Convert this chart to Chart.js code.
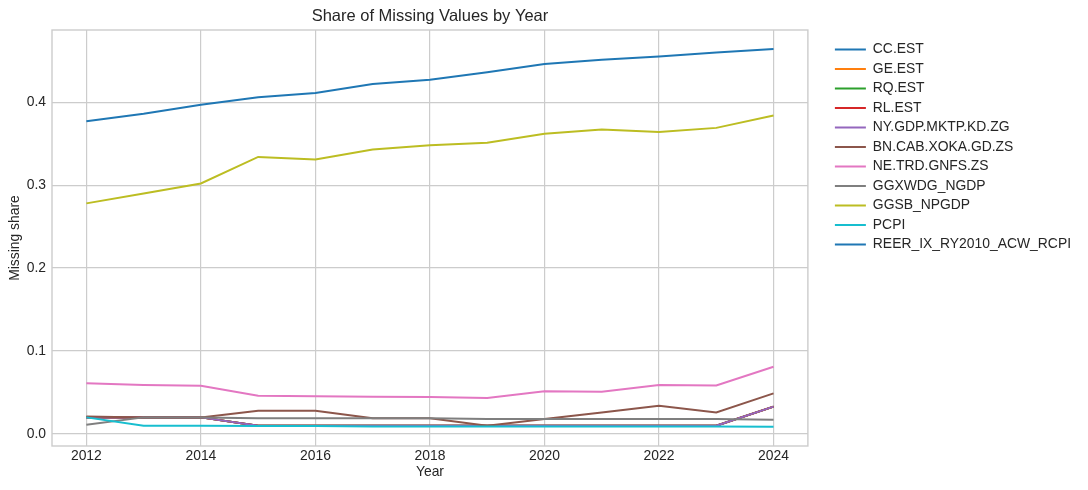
<!DOCTYPE html>
<html>
<head>
<meta charset="utf-8">
<script src="https://cdn.jsdelivr.net/npm/chart.js@4.4.1/dist/chart.umd.min.js"></script>
<style>
  html, body { margin: 0; padding: 0; background: #fff; }
</style>
</head>
<body>
<canvas id="chart" width="1088" height="490"></canvas>
<script>
// values
const years = [2012, 2013, 2014, 2015, 2016, 2017, 2018, 2019, 2020, 2021, 2022, 2023, 2024];
const xTicks = [2012, 2014, 2016, 2018, 2020, 2022, 2024];
const yTicks = [0.0, 0.1, 0.2, 0.3, 0.4];

const ccEst  = [0.02, 0.02, 0.02, 0.01, 0.01, 0.01, 0.01, 0.01, 0.01, 0.01, 0.01, 0.01, 0.033];
const geEst  = [0.02, 0.02, 0.02, 0.01, 0.01, 0.01, 0.01, 0.01, 0.01, 0.01, 0.01, 0.01, 0.033];
const rqEst  = [0.02, 0.02, 0.02, 0.01, 0.01, 0.01, 0.01, 0.01, 0.01, 0.01, 0.01, 0.01, 0.033];
const rlEst  = [0.02, 0.02, 0.02, 0.01, 0.01, 0.01, 0.01, 0.01, 0.01, 0.01, 0.01, 0.01, 0.033];
const nyGdp  = [0.02, 0.02, 0.02, 0.01, 0.01, 0.01, 0.01, 0.01, 0.01, 0.01, 0.01, 0.01, 0.033];
const bnCab  = [0.021, 0.02, 0.02, 0.028, 0.028, 0.019, 0.019, 0.01, 0.018, 0.026, 0.034, 0.026, 0.049];
const neTrd  = [0.061, 0.059, 0.058, 0.046, 0.0455, 0.045, 0.0445, 0.0435, 0.0515, 0.051, 0.059, 0.0585, 0.081];
const ggxwdg = [0.011, 0.02, 0.02, 0.019, 0.019, 0.019, 0.019, 0.018, 0.018, 0.018, 0.018, 0.018, 0.017];
const ggsb   = [0.278, 0.290, 0.302, 0.334, 0.331, 0.343, 0.348, 0.351, 0.362, 0.367, 0.364, 0.369, 0.384];
const pcpi   = [0.02, 0.01, 0.01, 0.0095, 0.0095, 0.009, 0.009, 0.009, 0.009, 0.009, 0.009, 0.009, 0.0088];
const reer   = [0.377, 0.386, 0.397, 0.406, 0.411, 0.422, 0.427, 0.436, 0.446, 0.451, 0.455, 0.460, 0.464];

const seriesNames = ['CC.EST', 'GE.EST', 'RQ.EST', 'RL.EST', 'NY.GDP.MKTP.KD.ZG', 'BN.CAB.XOKA.GD.ZS',
    'NE.TRD.GNFS.ZS', 'GGXWDG_NGDP', 'GGSB_NPGDP', 'PCPI', 'REER_IX_RY2010_ACW_RCPI'];
const seriesValues = [ccEst, geEst, rqEst, rlEst, nyGdp, bnCab, neTrd, ggxwdg, ggsb, pcpi, reer];
const colors = ['#1f77b4', '#ff7f0e', '#2ca02c', '#d62728', '#9467bd', '#8c564b',
    '#e377c2', '#7f7f7f', '#bcbd22', '#17becf', '#1f77b4'];

const textColor = '#262626';
const gridColor = '#cccccc';
const font = 'Liberation Sans, Arial, sans-serif';

// later series drawn on top, like matplotlib
const datasets = seriesNames.map((name, i) => ({
    label: name,
    data: years.map((yr, j) => ({ x: yr, y: seriesValues[i][j] })),
    borderColor: colors[i],
    backgroundColor: colors[i],
    borderWidth: 2,
    pointRadius: 0,
    tension: 0,
    order: -i
}));

// box round the plot area
const framePlugin = {
    id: 'frame',
    afterDatasetsDraw(chart) {
        const a = chart.chartArea;
        const ctx = chart.ctx;
        ctx.save();
        ctx.strokeStyle = gridColor;
        ctx.lineWidth = 1.4;
        ctx.strokeRect(a.left, a.top, a.right - a.left, a.bottom - a.top);
        ctx.restore();
    }
};

Chart.defaults.font.family = font;
Chart.defaults.color = textColor;

new Chart(document.getElementById('chart'), {
    type: 'line',
    data: { datasets },
    plugins: [framePlugin],
    options: {
        responsive: false,
        animation: false,
        layout: { padding: { left: 0, right: 7, top: 0, bottom: 0 } },
        plugins: {
            title: {
                display: true,
                text: 'Share of Missing Values by Year',
                fullSize: false,
                color: textColor,
                font: { size: 16.5, weight: 'normal' },
                padding: { top: 6.4, bottom: 3.8 }
            },
            legend: {
                position: 'right',
                align: 'start',
                fullSize: false,
                maxWidth: 320,
                title: { display: true, text: ' ', font: { size: 1, lineHeight: 1 }, padding: { top: 5.9, bottom: 0 } },
                labels: {
                    boxWidth: 31,
                    boxHeight: 2,
                    padding: 5.6,
                    color: textColor,
                    font: { size: 13.9 },
                    sort: (a, b) => a.datasetIndex - b.datasetIndex,
                    generateLabels(chart) {
                        const items = Chart.defaults.plugins.legend.labels.generateLabels(chart);
                        items.forEach(it => { it.fillStyle = it.strokeStyle; it.lineWidth = 0; });
                        return items;
                    }
                }
            },
            tooltip: { enabled: false }
        },
        scales: {
            x: {
                type: 'linear',
                min: 2011.4,
                max: 2024.6,
                afterBuildTicks: s => { s.ticks = xTicks.map(v => ({ value: v })); },
                afterFit: s => { s.height = 44; },
                grid: { color: gridColor, lineWidth: 1.2, drawTicks: false },
                border: { display: false },
                ticks: { padding: 2, color: textColor, font: { size: 13.9 }, maxRotation: 0, callback: v => String(v) },
                title: { display: true, text: 'Year', color: textColor, font: { size: 13.9 }, padding: { top: 0, bottom: 9.4 } }
            },
            y: {
                type: 'linear',
                min: -0.0145,
                max: 0.487,
                afterBuildTicks: s => { s.ticks = yTicks.map(v => ({ value: v })); },
                afterFit: s => { s.width = 52; },
                grid: { color: gridColor, lineWidth: 1.2, drawTicks: false },
                border: { display: false },
                ticks: { padding: 6, color: textColor, font: { size: 13.9 }, callback: v => v.toFixed(1) },
                title: { display: true, text: 'Missing share', color: textColor, font: { size: 13.9 }, padding: { top: 7, bottom: 0 } }
            },
            gap: {
                type: 'linear',
                position: 'right',
                grid: { display: false },
                border: { display: false },
                ticks: { display: false },
                afterFit: s => { s.width = 21.4; }
            }
        }
    }
});
</script>
</body>
</html>
